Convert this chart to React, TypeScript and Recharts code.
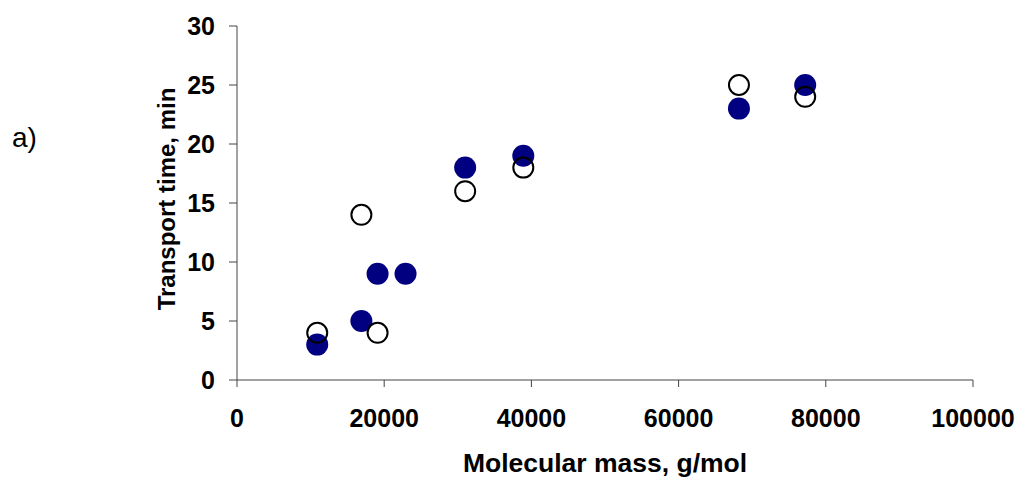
import { Label, Scatter, ScatterChart, XAxis, YAxis } from 'recharts';

// molecular mass (g/mol) vs transport time (min)
const filledMass = [10900, 16900, 19100, 22900, 31000, 38900, 68200, 77200];
const filledTime = [3, 5, 9, 9, 18, 19, 23, 25];

const openMass = [10900, 16900, 19100, 31000, 38900, 68200, 77200];
const openTime = [4, 14, 4, 16, 18, 25, 24];

const xTicks = [0, 20000, 40000, 60000, 80000, 100000];
const yTicks = [0, 5, 10, 15, 20, 25, 30];

const filledData = filledMass.map((m, i) => ({ mass: m, time: filledTime[i] }));
const openData = openMass.map((m, i) => ({ mass: m, time: openTime[i] }));

const FONT = '"Liberation Sans", Arial, sans-serif';
const AXIS = '#444';
const tickStyle = { fontFamily: FONT, fontSize: 25, fontWeight: 700, fill: '#000' };

const FilledDot = (props: any) => (
  <circle cx={props.cx} cy={props.cy} r={11} fill="#000080" stroke="none" />
);

const OpenDot = (props: any) => (
  <circle cx={props.cx} cy={props.cy} r={10} fill="none" stroke="#000" strokeWidth={2} />
);

export default function App() {
  return (
    <div style={{ position: 'absolute', left: 0, top: 0, width: 1018, height: 477, background: '#fff' }}>
      <ScatterChart width={1018} height={477} margin={{ top: 26, right: 45, bottom: 37, left: 177 }}>
        <XAxis
          type="number"
          dataKey="mass"
          domain={[0, 100000]}
          ticks={xTicks}
          allowDataOverflow
          height={60}
          tickSize={7}
          tickMargin={22}
          stroke={AXIS}
          tick={tickStyle}
        >
          <Label
            content={() => (
              <g>
                <text
                  x={605}
                  y={472}
                  textAnchor="middle"
                  style={{ fontFamily: FONT, fontSize: 26.5, fontWeight: 700, fill: '#000' }}
                >
                  Molecular mass, g/mol
                </text>
                <text x={12} y={147} style={{ fontFamily: FONT, fontSize: 28, fill: '#000' }}>
                  a)
                </text>
              </g>
            )}
          />
        </XAxis>
        <YAxis
          type="number"
          dataKey="time"
          domain={[0, 30]}
          ticks={yTicks}
          width={60}
          tickSize={8}
          tickMargin={14}
          stroke={AXIS}
          tick={tickStyle}
        >
          <Label
            content={() => (
              <text
                x={175}
                y={199}
                textAnchor="middle"
                transform="rotate(-90 175 199)"
                style={{ fontFamily: FONT, fontSize: 24, fontWeight: 700, fill: '#000' }}
              >
                Transport time, min
              </text>
            )}
          />
        </YAxis>
        <Scatter data={filledData} shape={FilledDot} isAnimationActive={false} />
        <Scatter data={openData} shape={OpenDot} isAnimationActive={false} />
      </ScatterChart>
    </div>
  );
}
